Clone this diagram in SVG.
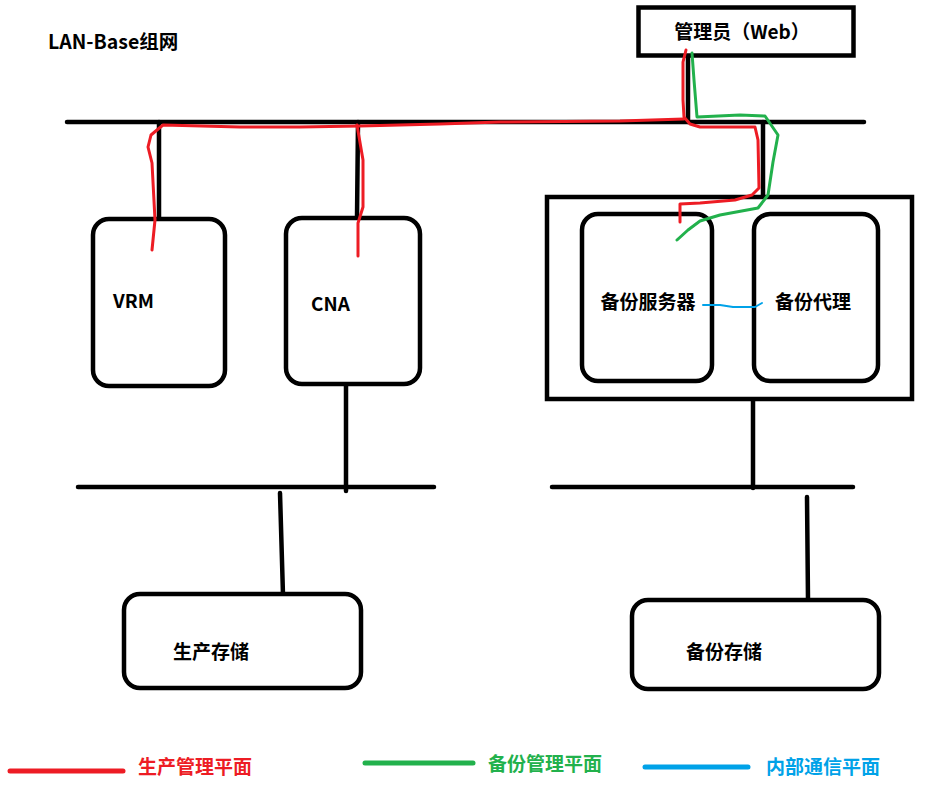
<svg xmlns="http://www.w3.org/2000/svg" width="925" height="795" viewBox="0 0 925 795">
<style>
.box{fill:#fff;stroke:#000;stroke-width:4.5}
.ln{fill:none;stroke:#000;stroke-width:4.5;stroke-linecap:round}
.t{font-family:"Noto Sans CJK SC","Open Sans",sans-serif;font-weight:bold;font-size:19px;fill:#000}
.red{fill:none;stroke:#ED1C24;stroke-width:3;stroke-linecap:round;stroke-linejoin:round}
.green{fill:none;stroke:#22B14C;stroke-width:3;stroke-linecap:round;stroke-linejoin:round}
.blue{fill:none;stroke:#00A2E8;stroke-width:2;stroke-linecap:round;stroke-linejoin:round}
</style>
<rect width="925" height="795" fill="#fff"/>
<text class="t" x="48" y="49" style="font-size:19.5px">LAN-Base组网</text>

<g id="buses">
<line class="ln" x1="67" y1="122" x2="864" y2="122"/>
<line class="ln" x1="78" y1="487" x2="434" y2="487"/>
<line class="ln" x1="552" y1="487" x2="853" y2="487"/>
</g>

<g id="connectors">
<line class="ln" x1="688" y1="57" x2="688" y2="122"/>
<line class="ln" x1="763" y1="122" x2="763" y2="197"/>
<line class="ln" x1="159" y1="122" x2="159" y2="219"/>
<line class="ln" x1="358" y1="122" x2="357" y2="218"/>
<line class="ln" x1="346" y1="384" x2="346" y2="491"/>
<line class="ln" x1="280" y1="493" x2="283" y2="595"/>
<line class="ln" x1="753" y1="399" x2="753" y2="488"/>
<line class="ln" x1="807" y1="497" x2="808" y2="600"/>
</g>

<g id="manager">
<rect class="box" x="638.5" y="7.5" width="215" height="48"/>
<text class="t" x="742" y="39" text-anchor="middle">管理员（Web）</text>
</g>

<g id="vrm">
<rect class="box" x="93" y="219" width="132" height="167" rx="16"/>
<text class="t" x="113" y="308">VRM</text>
</g>

<g id="cna">
<rect class="box" x="286" y="218" width="134" height="166" rx="16"/>
<text class="t" x="311" y="311">CNA</text>
</g>

<g id="backup-host">
<rect class="box" x="547" y="197" width="365" height="202"/>
</g>

<g id="backup-server">
<rect class="box" x="582" y="214" width="130" height="167" rx="16"/>
<text class="t" x="648" y="309" text-anchor="middle">备份服务器</text>
</g>

<g id="backup-agent">
<rect class="box" x="754" y="214" width="124" height="167" rx="16"/>
<text class="t" x="813" y="309" text-anchor="middle">备份代理</text>
</g>

<g id="prod-storage">
<rect class="box" x="124" y="594" width="237" height="94" rx="16"/>
<text class="t" x="173" y="659">生产存储</text>
</g>

<g id="backup-storage">
<rect class="box" x="632" y="600" width="247" height="89" rx="16"/>
<text class="t" x="686" y="659">备份存储</text>
</g>

<g id="planes">
<path class="red" d="M686,50 L683,62 L683,100 L684,117 L690,124 L700,127 L755,127 L758,140 L759,188 L752,195 L735,200 L700,203 L680,204 L680,222"/>
<path class="red" d="M684,119 L620,121 L500,122 L440,124 L400,125 L360,126 L300,127 L240,127 L163,125 L151,135 L148,147 L152,163 L155,220 L152,250"/>
<path class="red" d="M357,125 L363,160 L363,207 L358,223 L358,256"/>
<path class="green" d="M692,53 L694,80 L697,117 L740,115 L765,116 L778,135 L773,162 L768,195 L758,208 L720,215 L700,221 L688,230 L677,240"/>
<path class="blue" d="M703,305 L720,305 L733,307 L755,307 L762,303"/>
</g>

<g id="legend">
<line x1="10" y1="771" x2="123" y2="771" stroke="#ED1C24" stroke-width="5" stroke-linecap="round"/>
<text class="t" x="138" y="774" style="fill:#ED1C24">生产管理平面</text>
<line x1="365" y1="763" x2="473" y2="763" stroke="#22B14C" stroke-width="5" stroke-linecap="round"/>
<text class="t" x="488" y="771" style="fill:#22B14C">备份管理平面</text>
<line x1="645" y1="767" x2="748" y2="767" stroke="#00A2E8" stroke-width="5" stroke-linecap="round"/>
<text class="t" x="766" y="774" style="fill:#00A2E8">内部通信平面</text>
</g>
</svg>
